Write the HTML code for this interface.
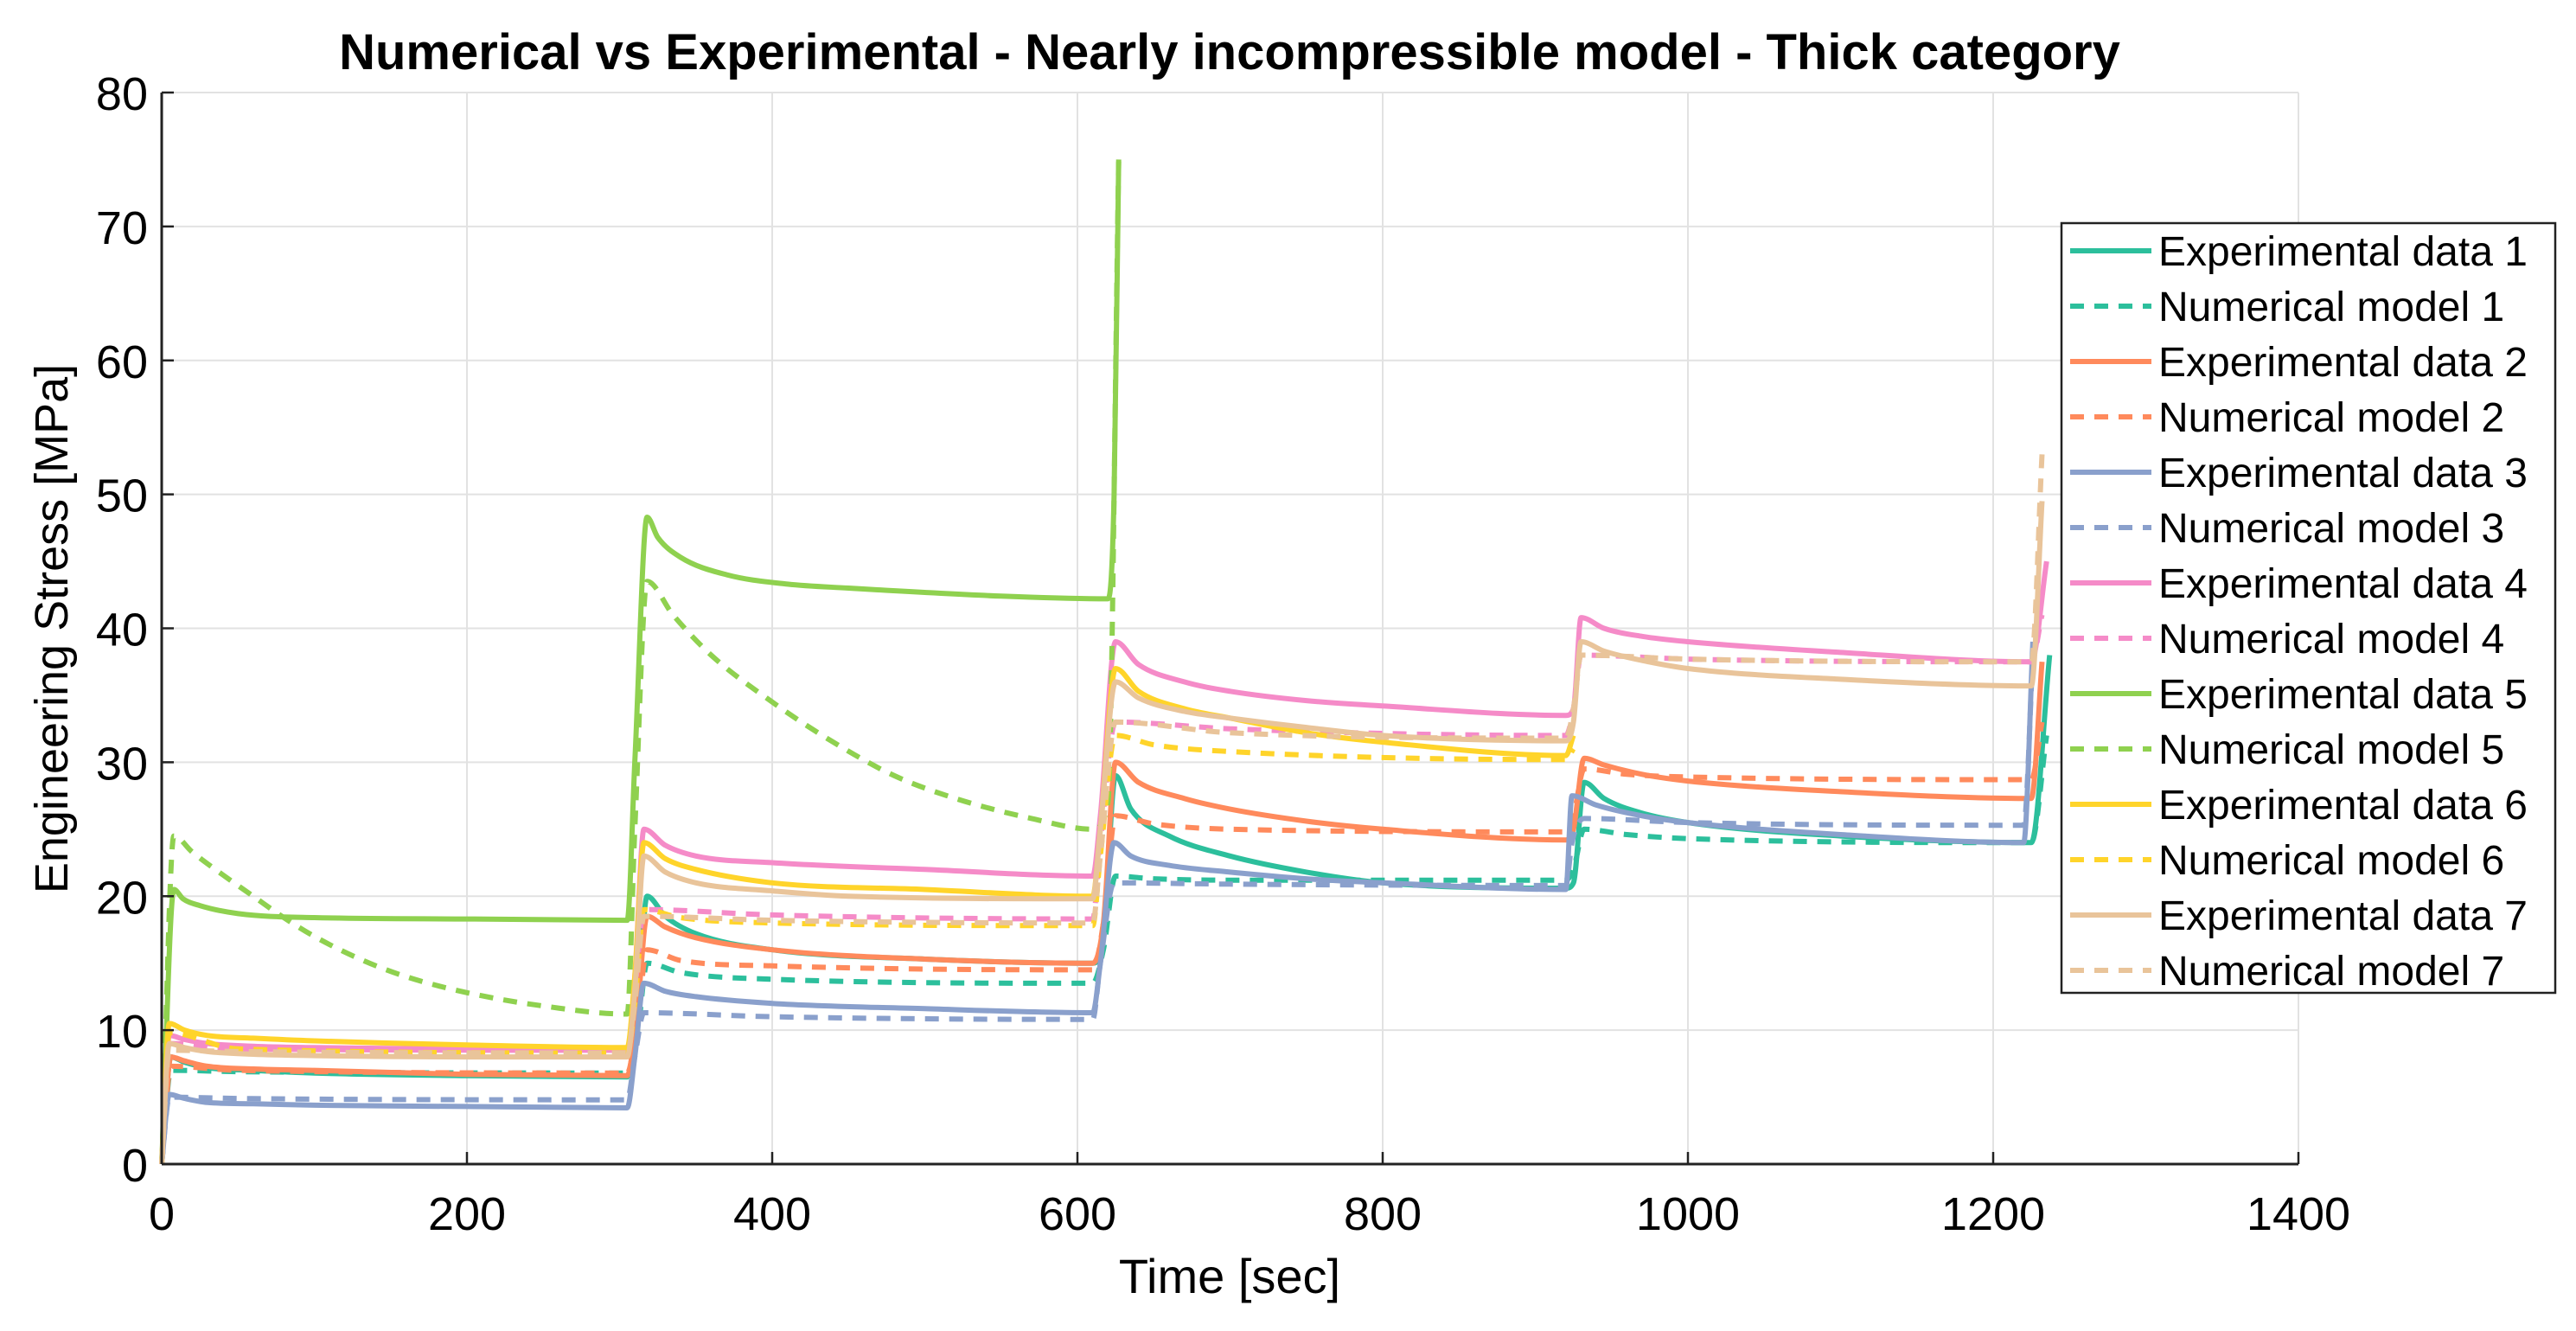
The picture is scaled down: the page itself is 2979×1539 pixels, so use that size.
<!DOCTYPE html>
<html><head><meta charset="utf-8"><style>
body{margin:0;background:#fff}
svg{display:block;font-family:"Liberation Sans",sans-serif}
</style></head><body>
<svg id="chart" width="2979" height="1539" viewBox="0 0 2979 1539" xmlns="http://www.w3.org/2000/svg">
<rect width="2979" height="1539" fill="#fff"/>
<text x="1422" y="80" text-anchor="middle" font-size="58" font-weight="bold">Numerical vs Experimental - Nearly incompressible model - Thick category</text>
<g id="grid"></g><g id="series"></g><g id="axes"></g><g id="legend"></g>
<text x="1422" y="1495" text-anchor="middle" font-size="56">Time [sec]</text>
<text transform="translate(78,727) rotate(-90)" text-anchor="middle" font-size="54">Engineering Stress [MPa]</text>
</svg>
<script>
const xTicks=[0,200,400,600,800,1000,1200,1400];
const yTicks=[0,10,20,30,40,50,60,70,80];
const seriesNames=["Experimental data 1","Numerical model 1","Experimental data 2","Numerical model 2","Experimental data 3","Numerical model 3","Experimental data 4","Numerical model 4","Experimental data 5","Numerical model 5","Experimental data 6","Numerical model 6","Experimental data 7","Numerical model 7"];
const seriesColors=["#2cbf9c","#2cbf9c","#ff8a5c","#ff8a5c","#8aa0cc","#8aa0cc","#f58bc8","#f58bc8","#8fd14f","#8fd14f","#ffd42a","#ffd42a","#e9c49a","#e9c49a"];
const e1T=[0,6,15,30,60,100,200,305,312,318,330,350,400,500,610,617,625,635,660,700,750,800,920,925,932,945,970,1000,1100,1225,1237];
const e1V=[0,8,7.6,7.2,7,6.8,6.6,6.5,12,20,18.5,17.2,16,15.3,15,17,29,26.5,24.5,23,21.8,21,20.6,21,28.5,27.3,26.2,25.5,24.5,24,38];
const n1T=[0,6,50,305,312,318,340,400,610,617,625,650,700,920,925,932,960,1000,1225,1235];
const n1V=[0,7,6.9,6.8,10,15,14.3,13.8,13.5,16,21.5,21.3,21.2,21.2,22,25,24.6,24.3,24,32];
const e2T=[0,6,15,30,60,100,200,305,312,318,330,350,400,500,610,617,625,640,670,700,750,800,920,925,932,945,970,1000,1100,1225,1232];
const e2V=[0,8,7.7,7.3,7.1,7,6.7,6.6,12,18.5,17.7,16.9,16,15.3,15,18,30,28.5,27.3,26.5,25.6,25,24.2,25,30.3,29.8,29.1,28.6,27.8,27.3,37.5];
const n2T=[0,6,50,305,312,318,340,400,610,617,625,650,700,920,925,932,960,1000,1225,1232];
const n2V=[0,7.3,7,6.8,11,16,15.2,14.8,14.5,18,26,25.4,25,24.8,26,29.5,29.1,28.9,28.7,33];
const e3T=[0,5,15,30,60,100,200,305,310,316,330,350,400,500,610,615,624,635,660,700,750,800,920,924,940,970,1000,1100,1220,1226];
const e3V=[0,5.2,4.9,4.6,4.5,4.4,4.3,4.2,8,13.5,12.9,12.5,12,11.6,11.3,15,24,23,22.3,21.8,21.3,21,20.5,27.5,26.8,26,25.5,24.6,24,39];
const n3T=[0,5,50,305,310,316,400,610,615,624,700,920,924,932,1000,1220,1226];
const n3V=[0,5,4.9,4.8,8,11.3,11,10.8,15,21,20.9,20.8,24,25.8,25.5,25.3,38];
const e4T=[0,5,15,30,60,100,200,305,310,316,330,350,400,500,610,615,625,640,670,700,750,800,920,925,930,945,970,1000,1100,1225,1235];
const e4V=[0,9.6,9.3,9,8.8,8.7,8.6,8.5,14,25,23.8,23,22.5,22,21.5,26,39,37.3,36,35.3,34.6,34.2,33.5,34,40.8,40,39.4,39,38.2,37.5,45];
const n4T=[0,5,50,305,310,316,400,610,615,625,700,920,925,930,1000,1225,1232];
const n4V=[0,9,8.6,8.5,13,19,18.6,18.3,24,33,32.5,32,34,38,37.7,37.5,41];
const e5T=[0,8,14,25,50,100,200,305,310,318,325,340,370,410,450,550,620,624,627];
const e5V=[0,20.5,19.8,19.3,18.7,18.4,18.3,18.2,30,48.3,46.8,45.3,44,43.3,43,42.4,42.2,50,75];
const n5T=[0,8,20,40,60,80,100,130,160,200,250,305,310,318,335,360,400,440,480,520,570,610,620,627];
const n5V=[0,24.5,23.3,21.6,20,18.4,17,15.3,14,12.8,11.8,11.2,25,43.5,41,38,34.5,31.5,29,27.3,25.8,25,27,75];
const e6T=[0,5,15,30,60,100,200,305,310,316,330,350,400,500,610,615,625,640,670,700,750,800,920,925];
const e6V=[0,10.5,10,9.6,9.4,9.2,8.9,8.7,14,24,22.8,22,21,20.5,20,25,37,35.3,34,33.3,32.2,31.5,30.5,32];
const n6T=[0,5,50,305,310,316,340,400,610,615,625,650,700,920,925];
const n6V=[0,9.8,8.6,8.3,12,19,18.4,18,17.8,23,32,31.3,30.8,30.2,31];
const e7T=[0,5,15,30,60,100,200,305,310,316,330,350,400,450,610,615,625,640,670,700,750,800,920,925,930,945,970,1000,1100,1225,1232];
const e7V=[0,9,8.7,8.4,8.2,8.1,8,8,13,23,21.8,21,20.4,20,19.8,25,36,34.8,33.8,33.3,32.6,32,31.6,33,39,38.3,37.6,37,36.2,35.7,49.5];
const n7T=[0,5,50,305,310,316,400,610,615,625,700,920,925,930,1000,1225,1232];
const n7V=[0,8.5,8.4,8.3,12,18.5,18.2,18,23,33,32.2,31.8,34,38,37.7,37.5,53];
const seriesT=[e1T,n1T,e2T,n2T,e3T,n3T,e4T,n4T,e5T,n5T,e6T,n6T,e7T,n7T];
const seriesV=[e1V,n1V,e2V,n2V,e3V,n3V,e4V,n4V,e5V,n5V,e6V,n6V,e7V,n7V];

const NS="http://www.w3.org/2000/svg";
const X0=187,X1=2658,Y0=1346,Y1=107;
function xs(t){return X0+(t-0)/(1400-0)*(X1-X0);}
function ys(v){return Y0-(v-0)/(80-0)*(Y0-Y1);}
function mk(tag,attrs,parent){const e=document.createElementNS(NS,tag);for(const k in attrs)e.setAttribute(k,attrs[k]);parent.appendChild(e);return e;}
// monotone cubic path (Fritsch-Carlson)
function monoPath(px,py){
  const n=px.length;if(n<2)return '';
  const d=[],m=[];
  for(let i=0;i<n-1;i++){const dx=px[i+1]-px[i];d.push(dx===0?0:(py[i+1]-py[i])/dx);}
  m[0]=d[0];m[n-1]=d[n-2];
  for(let i=1;i<n-1;i++){m[i]=(d[i-1]*d[i]<=0)?0:(d[i-1]+d[i])/2;}
  for(let i=0;i<n-1;i++){
    if(d[i]===0){m[i]=0;m[i+1]=0;continue;}
    const a=m[i]/d[i],b=m[i+1]/d[i],s=a*a+b*b;
    if(s>9){const t=3/Math.sqrt(s);m[i]=t*a*d[i];m[i+1]=t*b*d[i];}
  }
  let p='M'+px[0].toFixed(1)+','+py[0].toFixed(1);
  for(let i=0;i<n-1;i++){
    const h=(px[i+1]-px[i])/3;
    p+=' C'+(px[i]+h).toFixed(1)+','+(py[i]+m[i]*h).toFixed(1)+' '+(px[i+1]-h).toFixed(1)+','+(py[i+1]-m[i+1]*h).toFixed(1)+' '+px[i+1].toFixed(1)+','+py[i+1].toFixed(1);
  }
  return p;
}
const grid=document.getElementById('grid'),axes=document.getElementById('axes'),ser=document.getElementById('series'),leg=document.getElementById('legend');
xTicks.forEach(t=>{
  const g=mk('line',{x1:xs(t),x2:xs(t),y1:Y1,y2:Y0,stroke:'#e2e2e2','stroke-width':2},grid);
  
  
  mk('line',{x1:xs(t),x2:xs(t),y1:Y0,y2:Y0-14,stroke:'#222','stroke-width':2.5},axes);
  const l=mk('text',{x:xs(t),y:Y0+76,'text-anchor':'middle','font-size':54},axes);
  l.textContent=t;
  
  
});
yTicks.forEach(v=>{
  const g=mk('line',{x1:X0,x2:X1,y1:ys(v),y2:ys(v),stroke:'#e2e2e2','stroke-width':2},grid);
  
  
  mk('line',{x1:X0,x2:X0+14,y1:ys(v),y2:ys(v),stroke:'#222','stroke-width':2.5},axes);
  const l=mk('text',{x:X0-16,y:ys(v)+20,'text-anchor':'end','font-size':54},axes);
  l.textContent=v;
  
  
});
const xa=mk('line',{x1:X0,x2:X1,y1:Y0,y2:Y0,stroke:'#222','stroke-width':3},axes);


const ya=mk('line',{x1:X0,x2:X0,y1:Y1,y2:Y0,stroke:'#222','stroke-width':3},axes);



seriesT.forEach((T,i)=>{
  const V=seriesV[i];
  const px=T.map(xs),py=V.map(ys);
  const a={d:monoPath(px,py),fill:'none',stroke:seriesColors[i],'stroke-width':6,'stroke-linejoin':'round'};
  if(i%2===1)a['stroke-dasharray']='16 12';
  const p=mk('path',a,ser);
  
  
});

const lb=mk('rect',{x:2384,y:258,width:571,height:890,fill:'#fff',stroke:'#222','stroke-width':2.5},leg);


seriesNames.forEach((n,i)=>{
  const y=290+i*64;
  const g=mk('g',{},leg);
  
  
  const a={x1:2394,x2:2488,y1:y,y2:y,stroke:seriesColors[i],'stroke-width':6};
  if(i%2===1)a['stroke-dasharray']='16 12';
  mk('line',a,g);
  const t=mk('text',{x:2496,y:y+17,'font-size':48},g);
  t.textContent=n;
});
</script>
</body></html>
